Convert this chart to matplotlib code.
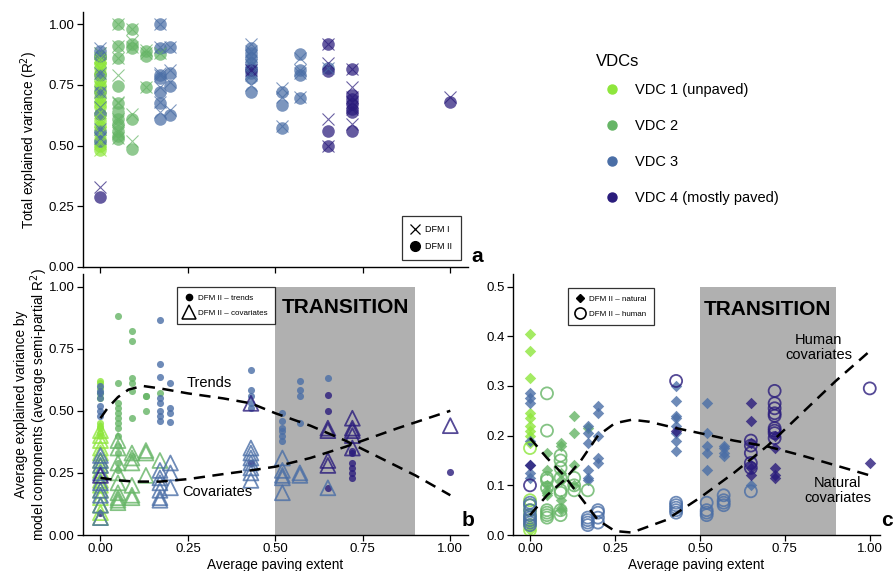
import matplotlib
matplotlib.use("Agg")
import matplotlib.pyplot as plt
from matplotlib.lines import Line2D

plt.rcParams['font.family'] = ['Liberation Sans', 'DejaVu Sans']

# ---------------- data ----------------
vdc_names = ["VDC 1 (unpaved)", "VDC 2", "VDC 3", "VDC 4 (mostly paved)"]
vdc_colors = ["#8ee63c", "#66b566", "#4a6ea6", "#2a1c7c"]
x_ticks = [0.00, 0.25, 0.50, 0.75, 1.00]
x_ticklabels = ["0.00", "0.25", "0.50", "0.75", "1.00"]
ab_yticks = [0.00, 0.25, 0.50, 0.75, 1.00]
c_yticks = [0.0, 0.1, 0.2, 0.3, 0.4, 0.5]

# panel a: (paving extent, VDC, DFM II R2 values, DFM I R2 values)
a_groups = [
    (0.00, 1, [0.48, 0.50, 0.52, 0.55, 0.58, 0.60, 0.63, 0.66, 0.68, 0.70, 0.73, 0.75, 0.77, 0.80, 0.82, 0.84, 0.86, 0.87],
              [0.48, 0.51, 0.52, 0.55, 0.59, 0.60, 0.64, 0.66, 0.69, 0.70, 0.74, 0.76, 0.77, 0.82, 0.82, 0.85, 0.86, 0.88]),
    (0.00, 3, [0.89, 0.87, 0.79, 0.72, 0.63, 0.56, 0.52], [0.90, 0.88, 0.80, 0.72, 0.66, 0.57, 0.53]),
    (0.00, 4, [0.29], [0.33]),
    (0.05, 2, [1.00, 0.91, 0.86, 0.745, 0.675, 0.64, 0.61, 0.59, 0.56, 0.54, 0.525],
              [1.00, 0.91, 0.86, 0.79, 0.68, 0.675, 0.61, 0.60, 0.56, 0.55, 0.53]),
    (0.09, 2, [0.98, 0.92, 0.90, 0.61, 0.485], [0.98, 0.93, 0.905, 0.63, 0.52]),
    (0.13, 2, [0.89, 0.87, 0.74], [0.895, 0.88, 0.74]),
    (0.17, 2, [0.875], [0.88]),
    (0.17, 3, [1.00, 0.90, 0.79, 0.78, 0.72, 0.675, 0.61], [1.00, 0.905, 0.80, 0.79, 0.74, 0.68, 0.64]),
    (0.20, 3, [0.905, 0.80, 0.745, 0.625], [0.905, 0.81, 0.76, 0.645]),
    (0.43, 3, [0.72, 0.78, 0.80, 0.82, 0.84, 0.86, 0.88, 0.90], [0.75, 0.79, 0.80, 0.83, 0.85, 0.87, 0.89, 0.92]),
    (0.43, 4, [0.81], [0.81]),
    (0.52, 3, [0.72, 0.667, 0.572], [0.735, 0.70, 0.58]),
    (0.57, 3, [0.877, 0.81, 0.79, 0.697], [0.86, 0.81, 0.80, 0.70]),
    (0.65, 3, [0.82], [0.82]),
    (0.65, 4, [0.92, 0.806, 0.56, 0.497], [0.92, 0.84, 0.61, 0.50]),
    (0.72, 4, [0.815, 0.71, 0.69, 0.67, 0.65, 0.64, 0.56], [0.815, 0.74, 0.70, 0.68, 0.66, 0.65, 0.59]),
    (1.00, 4, [0.68], [0.70]),
]

# panel b: trends (dots) and covariates (triangles): (paving extent, VDC, values)
b_trends = [
    (0.00, 1, [0.62, 0.61, 0.59, 0.57, 0.55, 0.45, 0.44, 0.43, 0.41, 0.40]),
    (0.00, 3, [0.60, 0.58, 0.57, 0.55, 0.52, 0.50, 0.48]),
    (0.00, 4, [0.09]),
    (0.05, 2, [0.88, 0.61, 0.53, 0.51, 0.49, 0.47, 0.45, 0.43, 0.40, 0.36, 0.33, 0.29, 0.26]),
    (0.09, 2, [0.82, 0.78, 0.63, 0.61, 0.58, 0.47, 0.32]),
    (0.13, 2, [0.56, 0.56, 0.50]),
    (0.17, 2, [0.57]),
    (0.17, 3, [0.867, 0.69, 0.635, 0.55, 0.53, 0.50, 0.48, 0.46]),
    (0.20, 3, [0.61, 0.51, 0.49, 0.455]),
    (0.43, 3, [0.665, 0.585, 0.56, 0.53, 0.51]),
    (0.43, 4, [0.29]),
    (0.52, 3, [0.49, 0.46, 0.43, 0.42, 0.40, 0.38]),
    (0.57, 3, [0.62, 0.585, 0.56, 0.45]),
    (0.65, 3, [0.63]),
    (0.65, 4, [0.565, 0.50, 0.19]),
    (0.72, 4, [0.34, 0.33, 0.29, 0.27, 0.25, 0.23]),
    (1.00, 4, [0.255]),
]
b_covariates = [
    (0.00, 1, [0.42, 0.40, 0.38, 0.35, 0.33, 0.30, 0.28, 0.26, 0.22, 0.20, 0.18, 0.15, 0.12, 0.09, 0.07]),
    (0.00, 3, [0.32, 0.30, 0.28, 0.25, 0.21, 0.18, 0.16, 0.12, 0.07]),
    (0.00, 4, [0.24]),
    (0.05, 2, [0.38, 0.35, 0.29, 0.25, 0.21, 0.17, 0.15, 0.14, 0.13]),
    (0.09, 2, [0.33, 0.31, 0.29, 0.20, 0.16, 0.15]),
    (0.13, 2, [0.34, 0.33, 0.24]),
    (0.17, 2, [0.30]),
    (0.17, 3, [0.26, 0.23, 0.21, 0.18, 0.15, 0.14]),
    (0.20, 3, [0.29, 0.25, 0.19]),
    (0.43, 3, [0.35, 0.33, 0.31, 0.29, 0.27, 0.25, 0.22]),
    (0.43, 4, [0.53]),
    (0.52, 3, [0.31, 0.26, 0.24, 0.23, 0.17]),
    (0.57, 3, [0.25, 0.24]),
    (0.65, 3, [0.19]),
    (0.65, 4, [0.43, 0.42, 0.30, 0.28]),
    (0.72, 4, [0.47, 0.43, 0.42, 0.40, 0.35]),
    (1.00, 4, [0.44]),
]
b_trend_curve_x = [0.00, 0.02, 0.05, 0.08, 0.12, 0.17, 0.25, 0.35, 0.43, 0.50, 0.60, 0.70, 0.75, 0.80, 0.90, 1.00]
b_trend_curve_y = [0.47, 0.51, 0.555, 0.585, 0.60, 0.59, 0.57, 0.55, 0.53, 0.49, 0.44, 0.38, 0.345, 0.31, 0.24, 0.16]
b_cov_curve_x = [0.00, 0.05, 0.10, 0.17, 0.25, 0.35, 0.43, 0.50, 0.60, 0.70, 0.75, 0.85, 1.00]
b_cov_curve_y = [0.23, 0.22, 0.215, 0.215, 0.225, 0.245, 0.26, 0.275, 0.31, 0.355, 0.38, 0.43, 0.50]

# panel c: natural (diamonds) and human (open circles)
c_natural = [
    (0.00, 1, [0.405, 0.37, 0.315, 0.245, 0.235, 0.22, 0.21, 0.20, 0.185, 0.02, 0.01]),
    (0.00, 3, [0.285, 0.275, 0.265, 0.19, 0.14, 0.125, 0.115]),
    (0.00, 4, [0.14]),
    (0.05, 2, [0.165, 0.13, 0.10, 0.09, 0.085, 0.08]),
    (0.09, 2, [0.185, 0.18, 0.125, 0.11, 0.07, 0.055, 0.05]),
    (0.13, 2, [0.24, 0.205, 0.14, 0.10]),
    (0.17, 2, [0.215]),
    (0.17, 3, [0.22, 0.205, 0.185, 0.13, 0.115, 0.11]),
    (0.20, 3, [0.26, 0.245, 0.20, 0.155, 0.145]),
    (0.43, 3, [0.30, 0.27, 0.24, 0.235, 0.22, 0.205, 0.19, 0.17]),
    (0.43, 4, [0.21]),
    (0.52, 3, [0.265, 0.205, 0.18, 0.165, 0.13]),
    (0.57, 3, [0.18, 0.175, 0.165, 0.16]),
    (0.65, 3, [0.10]),
    (0.65, 4, [0.265, 0.23, 0.185, 0.14, 0.135, 0.12]),
    (0.72, 4, [0.20, 0.175, 0.135, 0.12, 0.115]),
    (1.00, 4, [0.145]),
]
c_human = [
    (0.00, 1, [0.175, 0.07, 0.06, 0.05, 0.04, 0.03, 0.02, 0.01]),
    (0.00, 3, [0.065, 0.06, 0.05, 0.04, 0.035, 0.03, 0.025, 0.02]),
    (0.00, 4, [0.10]),
    (0.05, 2, [0.285, 0.21, 0.115, 0.11, 0.095, 0.05, 0.045, 0.04, 0.035]),
    (0.09, 2, [0.16, 0.15, 0.135, 0.115, 0.09, 0.085, 0.05, 0.04]),
    (0.13, 2, [0.115, 0.10, 0.09]),
    (0.17, 2, [0.09]),
    (0.17, 3, [0.035, 0.03, 0.025, 0.02]),
    (0.20, 3, [0.05, 0.045, 0.035, 0.025]),
    (0.43, 3, [0.065, 0.06, 0.055, 0.05, 0.045]),
    (0.43, 4, [0.31]),
    (0.52, 3, [0.065, 0.05, 0.045, 0.04]),
    (0.57, 3, [0.08, 0.07, 0.065, 0.06]),
    (0.65, 3, [0.088]),
    (0.65, 4, [0.19, 0.18, 0.165, 0.145, 0.135]),
    (0.72, 4, [0.29, 0.265, 0.255, 0.245, 0.24, 0.215, 0.21, 0.205, 0.195]),
    (1.00, 4, [0.295]),
]
c_human_curve_x = [0.00, 0.05, 0.10, 0.15, 0.20, 0.25, 0.30, 0.40, 0.50, 0.60, 0.70, 0.80, 0.90, 1.00]
c_human_curve_y = [0.195, 0.155, 0.12, 0.075, 0.03, 0.008, 0.005, 0.03, 0.075, 0.125, 0.18, 0.245, 0.31, 0.37]
c_nat_curve_x = [0.00, 0.05, 0.10, 0.15, 0.20, 0.25, 0.30, 0.35, 0.43, 0.50, 0.60, 0.70, 0.80, 0.90, 1.00]
c_nat_curve_y = [0.04, 0.08, 0.11, 0.15, 0.20, 0.225, 0.232, 0.228, 0.215, 0.205, 0.19, 0.178, 0.16, 0.14, 0.12]

transition = (0.50, 0.90)

# ---------------- figure ----------------
fig = plt.figure(figsize=(8.95, 5.71), dpi=100)
ax_a = fig.add_axes([0.0927, 0.5324, 0.430, 0.4466])
ax_b = fig.add_axes([0.0927, 0.0630, 0.430, 0.457])
ax_c = fig.add_axes([0.5732, 0.0630, 0.410, 0.457])

TICK_FS = 9.5
LABEL_FS = 9.8


def style(ax, yticks, ylim, xlabels=True, yfmt="{:.2f}"):
    for s in ("top", "right"):
        ax.spines[s].set_visible(False)
    for s in ("left", "bottom"):
        ax.spines[s].set_linewidth(1.0)
    ax.set_xlim(-0.05, 1.05)
    ax.set_ylim(*ylim)
    ax.set_xticks(x_ticks)
    ax.set_xticklabels(x_ticklabels if xlabels else [])
    ax.set_yticks(yticks)
    ax.set_yticklabels([yfmt.format(v) for v in yticks])
    ax.tick_params(direction="out", length=4, width=0.9, labelsize=TICK_FS,
                   colors="black", pad=2)


# panel a
for x, v, d2, d1 in a_groups:
    ax_a.scatter([x] * len(d2), d2, s=82, marker="o", color=vdc_colors[v - 1],
                 alpha=0.72, linewidths=0, zorder=2)
    ax_a.scatter([x] * len(d1), d1, s=75, marker="x", color=vdc_colors[v - 1],
                 alpha=0.7, linewidths=0.8, zorder=3)
style(ax_a, ab_yticks, (0, 1.05), xlabels=False)
ax_a.set_ylabel("Total explained variance (R$^2$)", fontsize=LABEL_FS, labelpad=6)
ha = [Line2D([], [], marker="x", color="black", linestyle="none", markersize=7, markeredgewidth=0.9),
      Line2D([], [], marker="o", color="black", linestyle="none", markersize=7)]
leg = ax_a.legend(ha, ["DFM I", "DFM II"], loc="lower right", bbox_to_anchor=(0.995, 0.01),
                  fontsize=6.5, frameon=True, fancybox=False, edgecolor="black",
                  handletextpad=0.6, borderpad=1.0, labelspacing=0.9, handlelength=1.0)
leg.get_frame().set_linewidth(0.9)

# panel b
ax_b.axvspan(*transition, ymin=0, ymax=1.0 / 1.05, color="#b0b0b0", lw=0, zorder=0)
ax_b.text(0.70, 0.915, "TRANSITION", ha="center", va="center", fontsize=15,
          fontweight="bold", zorder=1)
for x, v, vals in b_trends:
    ax_b.scatter([x] * len(vals), vals, s=26, marker="o", color=vdc_colors[v - 1],
                 alpha=0.8, linewidths=0, zorder=2)
for x, v, vals in b_covariates:
    ax_b.scatter([x] * len(vals), vals, s=115, marker="^", facecolors="none",
                 edgecolors=vdc_colors[v - 1], alpha=0.8, linewidths=1.3, zorder=3)
ax_b.plot(b_trend_curve_x, b_trend_curve_y, color="black", lw=1.8, ls=(0, (4.5, 3)), zorder=4)
ax_b.plot(b_cov_curve_x, b_cov_curve_y, color="black", lw=1.8, ls=(0, (4.5, 3)), zorder=4)
ax_b.text(0.31, 0.61, "Trends", ha="center", va="center", fontsize=10.5)
ax_b.text(0.335, 0.172, "Covariates", ha="center", va="center", fontsize=10.5)
style(ax_b, ab_yticks, (0, 1.05))
ax_b.set_xlabel("Average paving extent", fontsize=LABEL_FS, labelpad=2)
ax_b.set_ylabel("Average explained variance by\nmodel components (average semi-partial R$^2$)",
                fontsize=LABEL_FS, labelpad=-1, linespacing=1.05)
hb = [Line2D([], [], marker="o", color="black", linestyle="none", markersize=4.5),
      Line2D([], [], marker="^", markerfacecolor="none", markeredgecolor="black",
             linestyle="none", markersize=10, markeredgewidth=1.1)]
leg = ax_b.legend(hb, ["DFM II \u2013 trends", "DFM II \u2013 covariates"], loc="upper left",
                  bbox_to_anchor=(0.234, 0.966), fontsize=5.8, frameon=True, fancybox=False,
                  edgecolor="black", handletextpad=0.5, borderpad=0.9, labelspacing=0.9,
                  handlelength=1.2)
leg.get_frame().set_linewidth(0.9)

# panel c
ax_c.axvspan(*transition, ymin=0, ymax=0.5 / 0.525, color="#b0b0b0", lw=0, zorder=0)
ax_c.text(0.70, 0.454, "TRANSITION", ha="center", va="center", fontsize=15,
          fontweight="bold", zorder=1)
for x, v, vals in c_natural:
    ax_c.scatter([x] * len(vals), vals, s=34, marker="D", color=vdc_colors[v - 1],
                 alpha=0.8, linewidths=0, zorder=2)
for x, v, vals in c_human:
    ax_c.scatter([x] * len(vals), vals, s=75, marker="o", facecolors="none",
                 edgecolors=vdc_colors[v - 1], alpha=0.8, linewidths=1.3, zorder=3)
ax_c.plot(c_human_curve_x, c_human_curve_y, color="black", lw=1.8, ls=(0, (4.5, 3)), zorder=4)
ax_c.plot(c_nat_curve_x, c_nat_curve_y, color="black", lw=1.8, ls=(0, (4.5, 3)), zorder=4)
ax_c.text(0.85, 0.378, "Human\ncovariates", ha="center", va="center", fontsize=10.5,
          linespacing=1.1)
ax_c.text(0.905, 0.09, "Natural\ncovariates", ha="center", va="center", fontsize=10.5,
          linespacing=1.1)
style(ax_c, c_yticks, (0, 0.525), yfmt="{:.1f}")
ax_c.set_xlim(-0.05, 1.03)
ax_c.set_xlabel("Average paving extent", fontsize=LABEL_FS, labelpad=2)
hc = [Line2D([], [], marker="D", color="black", linestyle="none", markersize=4.5),
      Line2D([], [], marker="o", markerfacecolor="none", markeredgecolor="black",
             linestyle="none", markersize=8, markeredgewidth=1.2)]
leg = ax_c.legend(hc, ["DFM II \u2013 natural", "DFM II \u2013 human"], loc="upper left",
                  bbox_to_anchor=(0.139, 0.962), fontsize=5.8, frameon=True, fancybox=False,
                  edgecolor="black", handletextpad=0.5, borderpad=0.9, labelspacing=0.9,
                  handlelength=1.2)
leg.get_frame().set_linewidth(0.9)

# panel letters
fig.text(477 / 895, 1 - 256 / 571, "a", fontsize=15, fontweight="bold", ha="center", va="center")
fig.text(468 / 895, 1 - 520 / 571, "b", fontsize=15, fontweight="bold", ha="center", va="center")
fig.text(887 / 895, 1 - 520 / 571, "c", fontsize=15, fontweight="bold", ha="center", va="center")

# VDC legend
fig.text(596 / 895, 1 - 61 / 571, "VDCs", fontsize=12, ha="left", va="center")
hv = [Line2D([], [], marker="o", color=c, linestyle="none", markersize=6.5) for c in vdc_colors]
fig.legend(hv, vdc_names, loc="upper left", bbox_to_anchor=(605 / 895, 1 - 83 / 571),
           fontsize=10.5, frameon=False, labelspacing=1.5, handletextpad=1.05,
           handlelength=1.0, borderpad=0.0, borderaxespad=0.0)

fig.savefig("out.png", dpi=100)
